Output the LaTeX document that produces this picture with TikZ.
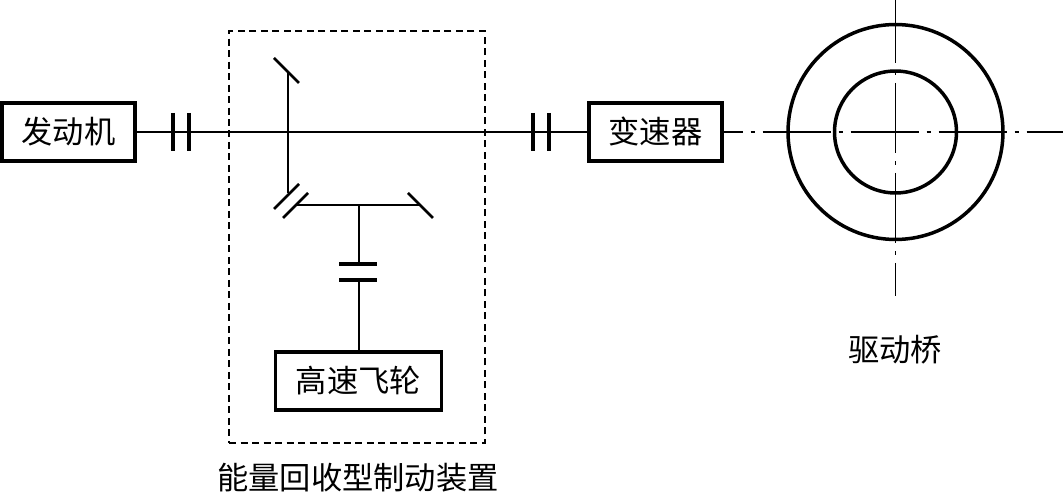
\documentclass[tikz,border=0pt]{standalone}
\usepackage{fontspec}
\setmainfont{Noto Sans CJK SC}
\usetikzlibrary{positioning}
\tikzset{
  unitbox/.style={rectangle, draw=black, line width=0.065cm, inner sep=0pt,
      minimum width=2.66cm, minimum height=1.16cm, font=\fontsize{17.8}{20}\selectfont},
  shaft/.style={line width=0.04cm},
  barline/.style={line width=0.065cm},
  gearline/.style={line width=0.055cm},
  wheel/.style={circle, draw=black, line width=0.07cm, inner sep=0pt},
  axisline/.style={line width=0.035cm},
  caption/.style={font=\fontsize{17.8}{20}\selectfont, inner sep=0pt}
}

\begin{document}
\begin{tikzpicture}[x=0.02cm,y=-0.02cm]
\useasboundingbox (0,0) rectangle (1063,493);

% dashed frame
\node[rectangle, draw=black, line width=0.032cm, dash pattern=on 0.14cm off 0.09cm,
      minimum width=5.12cm, minimum height=8.24cm, inner sep=0pt]
  (brake) at (357,237) {};
\node[caption] (brakelabel) at (358,478) {能量回收型制动装置};

% boxes
\node[unitbox] (engine) at (68.5,132) {发动机};
\node[unitbox] (gearbox) at (655.5,132) {变速器};
\node[unitbox, minimum width=3.32cm] (flywheel) at (358.5,381) {高速飞轮};

% drive axle
\node[wheel, minimum size=4.3cm] (outerwheel) at (895.5,132) {};
\node[wheel, minimum size=2.44cm] (innerwheel) at (895.5,132) {};
\node[caption] (axlelabel) at (895,350) {驱动桥};

% junctions
\coordinate (topgear) at (288,72);
\coordinate (midgear) at (288,193);
\coordinate (lowleft) at (297,205);
\coordinate (lowright) at (420,205);
\coordinate (lowmid) at (358.5,205);
\coordinate (clutchtop) at (358.5,264);
\coordinate (clutchlow) at (358.5,280);
\coordinate (axleright) at (1063,132);
\coordinate (axletop) at (895.5,0);
\coordinate (axlelow) at (895.5,296);

% shafts
\draw[shaft] (engine.east) -- (gearbox.west);
\draw[shaft] (topgear) -- (midgear);
\draw[shaft] (lowleft) -- (lowright);
\draw[shaft] (lowmid) -- (clutchtop);
\draw[shaft] (clutchlow) -- (flywheel.north);

% clutches
\foreach \xa in {173,189,533,549}
  \draw[barline] (\xa,113) -- (\xa,151);
\foreach \ya in {264,280}
  \draw[barline] (339,\ya) -- (377,\ya);

% bevel gears
\draw[gearline] (274,58) -- (299,83);
\draw[gearline] (274,209) -- (299,184);
\draw[gearline] (283,218) -- (308,193);
\draw[gearline] (408,193) -- (433,218);

% centre lines
\draw[axisline, dash pattern=on 1.36cm off 0.16cm on 0.08cm off 0.16cm, dash phase=0.98cm]
  (gearbox.east) -- (axleright);
\draw[axisline, dash pattern=on 1.4cm off 0.16cm on 0.08cm off 0.16cm, dash phase=0.14cm]
  (axletop) -- (axlelow);
\end{tikzpicture}
\end{document}
